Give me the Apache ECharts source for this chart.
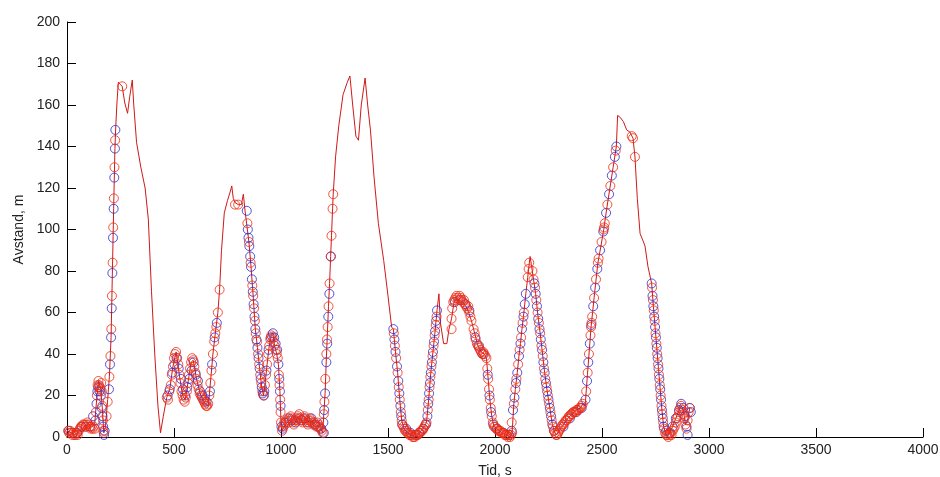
<!DOCTYPE html>
<html>
<head>
<meta charset="utf-8">
<script src="https://cdn.jsdelivr.net/npm/echarts@6/dist/echarts.min.js"></script>
<style>
html,body{margin:0;padding:0;background:#fff;}
#chart{width:940px;height:477px;}
</style>
</head>
<body>
<div id="chart"></div>
<script>
// Red line: [time (s), distance (m)]
const traceLine = [
[0,3],[20,2],[40,1],[60,3],[80,5],[100,6],[120,5],[130,7],[140,20],[148,27],[158,23],[165,14],[172,2],[180,5],
[190,18],[198,29],[206,48],[212,79],[218,110],[224,139],[228,150],[234,162],[240,171],[248,170],[258,169],[270,161],
[283,156],[293,164],[305,172],[312,160],[325,142],[345,130],[365,120],[380,105],[395,70],[410,40],[425,15],[437,2],
[450,10],[466,19],[480,23],[495,34],[510,41],[525,30],[540,20],[552,18],[565,26],[580,36],[590,37],[605,28],[625,20],
[645,16],[660,15],[670,26],[682,40],[693,50],[705,60],[713,71],[722,90],[735,108],[750,114],[762,118],[770,121],
[777,115],[785,113],[800,112],[815,112],[824,117],[832,109],[840,109],[850,94],[860,82],[870,68],[880,52],[890,43],
[900,33],[910,24],[918,20],[925,25],[935,35],[945,44],[955,49],[962,50],[970,44],[980,40],[988,35],[995,22],[1000,7],
[1005,3],[1020,6],[1040,8],[1060,6],[1080,10],[1100,7],[1120,7],[1140,8],[1160,6],[1180,5],[1195,2],[1200,11],
[1206,21],[1212,38],[1218,53],[1222,63],[1227,74],[1232,87],[1236,97],[1241,110],[1244,117],[1255,135],[1270,150],
[1290,165],[1310,171],[1322,174],[1335,160],[1350,145],[1362,143],[1375,160],[1393,173],[1405,160],[1418,148],
[1435,125],[1455,103],[1480,85],[1500,68],[1517,53],[1525,52],[1535,41],[1545,31],[1555,18],[1564,8],[1575,4],
[1590,2],[1610,1],[1625,0],[1640,1],[1655,3],[1670,5],[1680,7],[1690,18],[1700,31],[1710,41],[1720,51],[1729,61],
[1738,69],[1745,55],[1760,45],[1775,45],[1785,52],[1797,57],[1810,66],[1830,66],[1850,65],[1870,62],[1890,56],
[1905,50],[1920,44],[1935,41],[1950,40],[1960,38],[1968,28],[1976,18],[1985,10],[1995,5],[2010,4],[2030,2],[2050,1],
[2070,0],[2080,2],[2088,16],[2095,23],[2104,31],[2112,39],[2119,45],[2126,52],[2133,58],[2139,64],[2144,69],[2153,77],
[2157,81],[2164,87],[2170,83],[2180,76],[2190,69],[2200,59],[2211,50],[2220,42],[2232,31],[2244,22],[2256,14],
[2268,6],[2276,3],[2285,1],[2295,2],[2305,4],[2320,6],[2340,9],[2360,11],[2380,13],[2400,14],[2410,16],[2421,15],
[2432,30],[2443,45],[2449,53],[2456,60],[2466,70],[2481,84],[2495,92],[2508,100],[2522,110],[2537,120],[2552,130],
[2567,140],[2573,155],[2585,154],[2600,152],[2615,148],[2630,147],[2645,144],[2654,135],[2665,115],[2678,98],
[2690,95],[2701,92],[2715,82],[2732,74],[2740,63],[2748,53],[2756,43],[2764,33],[2772,23],[2780,13],[2788,5],
[2800,1],[2815,2],[2830,5],[2845,9],[2860,13],[2870,15],[2880,13],[2890,6],[2900,8],[2910,14]
];

// Blue circles
const blueCircles = [
[8,3],[28,2],[48,2],[68,5],[88,5],[108,5],[122,10],
[133,8],[138,16],[142,22],[146,24],[152,22],[158,20],[162,14],[166,10],[169,5],[173,1],[176,3],
[196,23],[201,35],[206,48],[209,62],[212,79],[215,96],[218,110],[221,125],[224,139],[226,148],
[470,20],[480,23],[492,31],[502,35],[512,38],[522,33],[532,28],[542,23],[552,20],[562,24],[572,28],[582,32],[592,36],
[602,30],[612,27],[622,22],[632,20],[642,18],[652,17],[668,22],[678,35],[690,48],[700,55],
[840,109],[845,100],[848,96],[852,92],[856,87],[860,82],[864,76],[868,70],[872,64],[876,58],[880,52],[885,47],[890,43],
[895,38],[900,33],[905,28],[910,24],[915,21],[920,20],[922,22],[932,32],[942,42],[952,48],[962,50],[968,48],[975,45],
[982,42],[988,35],[992,28],[995,22],[998,15],[1002,5],
[1008,4],[1022,7],[1038,9],[1052,8],[1068,7],[1082,9],[1098,8],[1112,9],[1128,7],[1142,9],[1158,6],[1172,5],[1188,4],[1200,2],
[1233,87],[1226,69],[1221,58],[1216,45],[1212,36],[1206,21],[1202,13],[1198,7],
[1525,52],[1530,47],[1535,41],[1542,34],[1548,27],[1553,21],[1558,15],[1562,10],[1566,6],[1585,4],[1605,2],[1625,1],
[1645,2],[1665,4],[1678,6],[1684,10],[1688,16],[1692,21],[1696,26],[1700,31],[1705,36],[1710,41],[1715,46],[1720,51],
[1725,56],[1729,61],
[1812,65],[1838,66],[1862,64],[1880,61],[1908,48],[1925,44],[1945,40],[1966,30],[1974,20],[1982,12],[1992,6],[2010,4],
[2040,2],[2065,1],[2078,3],
[2084,13],[2091,19],[2098,26],[2104,31],[2112,39],[2119,45],[2126,52],[2133,58],[2139,64],[2144,69],[2184,74],[2190,69],
[2196,63],[2202,57],[2208,52],[2214,47],[2220,42],[2226,36],[2232,31],[2238,26],[2244,22],[2250,18],[2256,14],[2262,10],
[2268,6],[2276,3],[2320,5],[2350,9],[2380,12],[2405,14],
[2423,18],[2430,27],[2436,36],[2443,45],[2450,54],[2459,63],[2468,72],[2478,81],[2491,90],[2506,99],[2519,108],
[2533,117],[2546,126],[2560,135],[2567,140],
[2732,74],[2736,68],[2740,63],[2744,58],[2748,53],[2752,48],[2756,43],[2760,38],[2764,33],[2768,28],[2772,23],[2776,18],
[2780,13],[2784,9],[2788,5],[2800,3],[2815,2],[2830,5],[2845,9],[2860,13],[2870,16],[2880,14],[2888,10],[2895,5],
[2900,1],[2910,14],[2915,12]
];

// Red circles
const redCircles = [
[5,3],[10,2],[15,3],[20,2],[25,1],[30,2],[35,1],[40,1],[45,2],[50,1],[55,3],[60,4],[65,5],[70,5],[75,6],[80,6],[85,5],
[90,6],[95,7],[100,6],[105,5],[110,4],[115,5],[120,4],[125,5],[130,4],
[135,12],[140,20],[143,25],[147,27],[150,25],[153,24],[157,23],[160,26],[163,22],[165,15],[168,8],[170,3],[172,2],
[185,10],[190,17],[198,29],[203,39],[207,52],[210,68],[213,84],[216,101],[219,115],[222,130],[225,143],[258,169],
[466,19],[472,18],[478,22],[485,25],[490,30],[495,34],[500,38],[505,40],[510,41],[515,38],[520,35],[525,30],[530,26],
[535,22],[540,20],[545,18],[550,17],[555,19],[560,22],[565,26],[570,30],[575,33],[580,36],[585,38],[590,37],[595,34],
[600,31],[605,28],[610,25],[615,23],[620,21],[625,20],[630,19],[635,18],[640,17],[645,16],[650,15],[655,15],[660,16],
[665,20],[670,26],[675,32],[682,40],[688,46],[693,50],[698,53],[705,60],[713,71],[785,112],[800,112],
[843,103],[850,94],[858,84],[866,73],[870,68],[874,62],[878,56],[882,50],[888,46],[893,40],[898,35],[903,30],[908,26],
[913,22],[918,20],[925,25],[930,30],[935,35],[940,40],[945,44],[950,47],[955,49],[960,48],[965,46],[970,44],[975,42],
[980,40],[985,38],[990,30],[993,25],[996,18],[998,12],[1000,7],
[1005,3],[1010,5],[1015,7],[1020,6],[1025,8],[1030,9],[1035,7],[1040,8],[1045,10],[1050,9],[1055,7],[1060,6],[1065,8],
[1070,9],[1075,8],[1080,10],[1085,11],[1090,9],[1095,8],[1100,7],[1105,9],[1110,10],[1115,8],[1120,7],[1125,6],[1130,8],
[1135,9],[1140,8],[1145,7],[1150,6],[1155,7],[1160,6],[1165,5],[1170,7],[1175,6],[1180,5],[1185,4],[1190,3],[1195,2],
[1244,117],[1241,110],[1236,97],[1232,87],[1227,74],[1222,63],[1218,53],[1215,47],[1212,40],[1207,28],[1203,17],[1200,11],
[1527,50],[1532,44],[1538,38],[1545,31],[1550,24],[1555,18],[1560,12],[1564,8],[1568,6],[1572,5],[1576,4],[1580,3],
[1585,3],[1590,2],[1595,2],[1600,1],[1605,1],[1610,1],[1615,0],[1620,0],[1625,0],[1630,1],[1635,1],[1640,1],[1645,2],
[1650,2],[1655,3],[1660,3],[1665,4],[1670,5],[1675,6],[1680,7],[1686,13],[1690,18],[1694,24],[1698,29],[1703,34],
[1708,39],[1713,44],[1718,49],[1723,54],[1727,58],
[1797,52],[1797,57],[1800,62],[1805,65],[1810,66],[1815,67],[1820,68],[1825,67],[1830,66],[1835,68],[1840,67],[1845,66],
[1850,65],[1855,66],[1860,64],[1865,63],[1870,62],[1875,63],[1880,60],[1885,58],[1890,56],[1900,52],[1905,50],[1910,47],
[1915,45],[1920,44],[1925,43],[1930,42],[1935,41],[1940,40],[1945,41],[1950,40],[1955,39],[1960,38],[1964,33],[1968,28],
[1972,23],[1976,18],[1980,14],[1985,10],[1990,7],[1995,5],[2000,5],[2005,4],[2010,4],[2015,3],[2020,3],[2025,3],[2030,2],
[2035,2],[2040,2],[2045,1],[2050,1],[2055,1],[2060,0],[2065,1],[2070,0],[2075,1],[2080,2],
[2078,7],[2088,16],[2095,23],[2100,28],[2108,35],[2115,42],[2122,48],[2129,55],[2135,60],[2153,77],[2157,81],[2160,84],
[2175,80],[2180,76],[2187,72],[2193,66],[2199,60],[2205,55],[2211,50],[2217,44],[2223,39],[2229,33],[2235,28],[2241,24],
[2247,20],[2253,16],[2259,12],[2265,8],[2271,5],[2275,3],[2280,2],[2285,1],[2290,1],[2295,2],[2300,3],[2305,4],[2310,5],
[2315,6],[2320,6],[2325,7],[2330,8],[2335,8],[2340,9],[2345,10],[2350,10],[2355,11],[2360,11],[2365,12],[2370,12],
[2375,12],[2380,13],[2385,13],[2390,13],[2395,14],[2400,14],[2405,15],[2410,16],
[2426,22],[2433,31],[2439,40],[2446,49],[2449,53],[2451,55],[2454,58],[2463,67],[2472,76],[2481,84],[2484,86],[2498,94],
[2508,100],[2510,101],[2513,103],[2525,112],[2539,121],[2552,130],[2564,138],[2639,145],[2645,144],[2654,135],
[2734,72],[2738,66],[2742,61],[2746,56],[2750,50],[2754,45],[2758,40],[2762,35],[2766,30],[2770,25],[2774,20],[2778,15],
[2782,11],[2786,7],[2790,4],[2795,2],[2800,1],[2805,1],[2810,0],[2815,1],[2820,2],[2825,1],[2830,3],[2835,4],[2840,5],
[2845,7],[2850,9],[2855,10],[2860,12],[2865,14],[2870,15],[2875,13],[2880,11],[2885,9],[2890,6],[2895,4],[2900,8],
[2905,12],[2910,14]
];

const xTitle = 'Tid, s';
const yTitle = 'Avstand, m';

const chart = echarts.init(document.getElementById('chart'));
const labelStyle = {fontFamily: 'Liberation Sans', fontSize: 14, color: '#222'};
const plain = v => String(v);
chart.setOption({
  animation: false,
  backgroundColor: '#fff',
  grid: {left: 67, right: 17, top: 22, bottom: 40, containLabel: false, outerBoundsMode: 'none'},
  xAxis: {
    type: 'value', min: 0, max: 4000, interval: 500,
    axisLine: {lineStyle: {color: '#000', width: 1}},
    axisTick: {inside: true, length: 9, lineStyle: {color: '#000'}},
    axisLabel: Object.assign({margin: 6, formatter: plain}, labelStyle),
    splitLine: {show: false},
    name: xTitle, nameLocation: 'middle', nameGap: 27,
    nameTextStyle: labelStyle
  },
  yAxis: {
    type: 'value', min: 0, max: 200, interval: 20,
    axisLine: {show: true, lineStyle: {color: '#000', width: 1}},
    axisTick: {show: true, inside: true, length: 9, lineStyle: {color: '#000'}},
    axisLabel: Object.assign({margin: 7, formatter: plain}, labelStyle),
    splitLine: {show: false},
    name: yTitle, nameLocation: 'middle', nameGap: 41,
    nameTextStyle: labelStyle
  },
  series: [
    {
      type: 'line', data: traceLine, showSymbol: false, symbol: 'none',
      lineStyle: {color: '#d01818', width: 1}, z: 1
    },
    {
      type: 'scatter', data: blueCircles, symbol: 'circle', symbolSize: 9,
      itemStyle: {color: 'rgba(0,0,0,0)', borderColor: '#2a2ad0', borderWidth: 1}, z: 2
    },
    {
      type: 'scatter', data: redCircles, symbol: 'circle', symbolSize: 9,
      itemStyle: {color: 'rgba(0,0,0,0)', borderColor: '#ee2a10', borderWidth: 1}, z: 3
    }
  ]
});
</script>
</body>
</html>
